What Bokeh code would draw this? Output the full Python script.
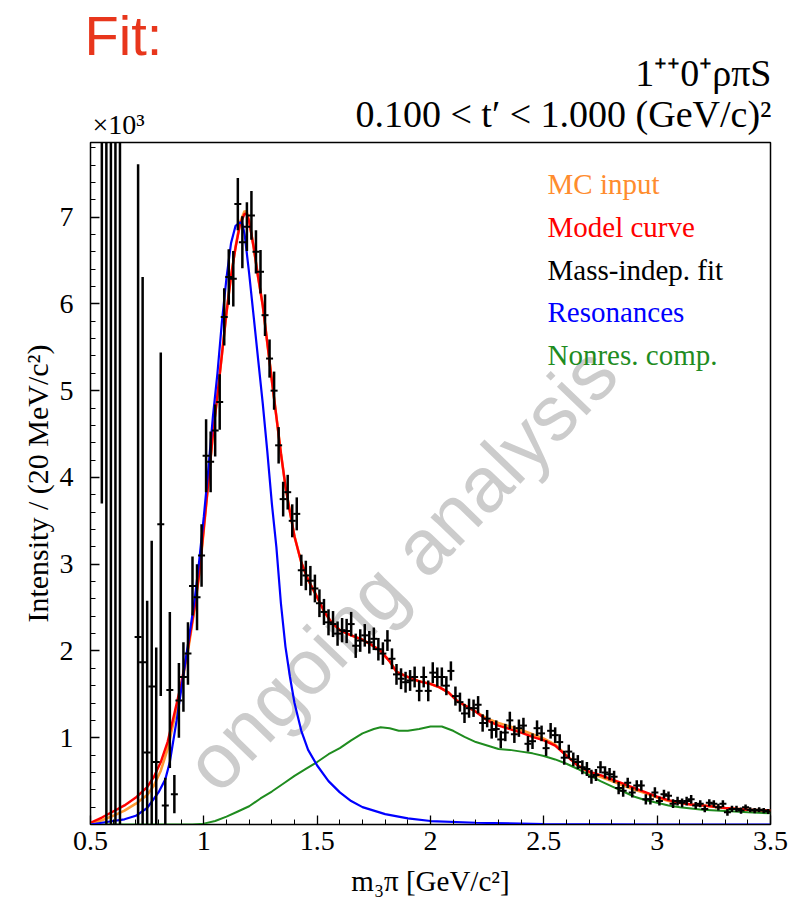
from bokeh.plotting import figure
from bokeh.layouts import column
from bokeh.models import Label, FixedTicker, Range1d, NumeralTickFormatter
from bokeh.embed import file_html
from bokeh.resources import INLINE

# ---------------- data (intensity in units of 10^3) ----------------
# mass-independent fit points: bin centres [GeV/c^2]
mass_low = [0.55, 0.57, 0.59, 0.61, 0.63, 0.71, 0.73, 0.75, 0.77, 0.79,
            0.81, 0.83, 0.85, 0.87, 0.89, 0.91, 0.93, 0.95, 0.97, 0.99]
val_low = [8.6, 9.0, 9.5, 9.2, 9.0, 2.16, 1.87, 0.83, 1.59, 0.72,
           3.46, 0.22, 1.55, 0.35, 1.43, 1.70, 1.97, 2.75, 2.62, 3.10]
err_low = [4.9, 9.5, 10.0, 9.5, 9.3, 5.45, 4.44, 1.75, 1.68, 1.32,
           1.98, 0.32, 0.90, 0.22, 0.43, 0.40, 0.36, 0.34, 0.38, 0.36]

mass_peak = [1.01, 1.03, 1.05, 1.07, 1.09, 1.11, 1.13, 1.15, 1.17, 1.19,
             1.21, 1.23, 1.25, 1.27, 1.29, 1.31, 1.33, 1.35, 1.37, 1.39,
             1.41, 1.43, 1.45, 1.47, 1.49, 1.51, 1.53]
val_peak = [4.25, 4.18, 4.54, 4.87, 5.85, 6.31, 6.29, 7.15, 6.71, 6.89,
            7.02, 6.60, 6.37, 5.87, 5.37, 5.00, 4.37, 3.75, 3.83, 3.50,
            3.58, 2.93, 2.87, 2.81, 2.72, 2.55, 2.45]
err_peak = [0.42, 0.35, 0.30, 0.32, 0.33, 0.32, 0.32, 0.30, 0.30, 0.28,
            0.28, 0.25, 0.25, 0.24, 0.22, 0.22, 0.21, 0.20, 0.20, 0.19,
            0.19, 0.18, 0.17, 0.17, 0.16, 0.16, 0.15]

mass_high = [1.55, 1.57, 1.59, 1.61, 1.63, 1.65, 1.67, 1.69, 1.71, 1.73,
             1.75, 1.77, 1.79, 1.81, 1.83, 1.85, 1.87, 1.89, 1.91, 1.93,
             1.95, 1.97, 1.99, 2.01, 2.03, 2.05, 2.07, 2.09, 2.11, 2.13,
             2.15, 2.17, 2.19, 2.21, 2.23, 2.25, 2.27, 2.29, 2.31, 2.33,
             2.35, 2.37, 2.39, 2.41, 2.43, 2.45, 2.47, 2.49, 2.51, 2.53,
             2.55, 2.57, 2.59, 2.61, 2.63, 2.65, 2.67, 2.69, 2.71, 2.73,
             2.75, 2.77, 2.79, 2.81, 2.83, 2.85, 2.87, 2.89, 2.91, 2.93,
             2.95, 2.97, 2.99, 3.01, 3.03, 3.05, 3.07, 3.09, 3.11, 3.13,
             3.15, 3.17, 3.19, 3.21, 3.23, 3.25, 3.27, 3.29, 3.31, 3.33,
             3.35, 3.37, 3.39, 3.41, 3.43, 3.45, 3.47, 3.49]
val_high = [2.33, 2.31, 2.20, 2.24, 2.23, 2.31, 2.06, 2.12, 2.18, 2.10,
            2.14, 2.02, 1.97, 2.12, 1.91, 1.73, 1.68, 1.64, 1.66, 1.70,
            1.54, 1.70, 1.54, 1.75, 1.70, 1.70, 1.60, 1.77, 1.48, 1.41,
            1.28, 1.34, 1.34, 1.38, 1.17, 1.22, 1.09, 1.10, 0.98, 1.06,
            1.20, 1.04, 1.11, 1.14, 0.93, 0.96, 1.11, 1.05, 0.88, 1.08,
            1.03, 0.95, 0.77, 0.84, 0.75, 0.72, 0.66, 0.64, 0.55, 0.57,
            0.66, 0.60, 0.58, 0.55, 0.42, 0.39, 0.48, 0.37, 0.45, 0.45,
            0.29, 0.29, 0.37, 0.27, 0.35, 0.33, 0.24, 0.27, 0.25, 0.27,
            0.29, 0.22, 0.24, 0.18, 0.25, 0.24, 0.20, 0.24, 0.14, 0.18,
            0.18, 0.16, 0.20, 0.17, 0.16, 0.17, 0.16, 0.15]
err_high = [0.15, 0.15, 0.14, 0.14, 0.14, 0.14, 0.14, 0.13, 0.13, 0.13,
            0.13, 0.13, 0.13, 0.12, 0.12, 0.12, 0.12, 0.12, 0.12, 0.12,
            0.12, 0.12, 0.12, 0.12, 0.11, 0.11, 0.11, 0.11, 0.11, 0.11,
            0.11, 0.11, 0.10, 0.10, 0.10, 0.10, 0.10, 0.10, 0.10, 0.10,
            0.10, 0.10, 0.10, 0.09, 0.09, 0.09, 0.09, 0.09, 0.09, 0.09,
            0.09, 0.09, 0.08, 0.08, 0.08, 0.08, 0.08, 0.08, 0.08, 0.07,
            0.07, 0.07, 0.07, 0.07, 0.07, 0.07, 0.06, 0.06, 0.06, 0.06,
            0.06, 0.06, 0.06, 0.05, 0.05, 0.05, 0.05, 0.05, 0.05, 0.05,
            0.05, 0.04, 0.04, 0.04, 0.04, 0.04, 0.04, 0.04, 0.04, 0.035,
            0.035, 0.035, 0.03, 0.03, 0.03, 0.03, 0.03, 0.03]

# model curves
curve_m = [0.50, 0.55, 0.60, 0.65, 0.70, 0.75, 0.78, 0.81, 0.84, 0.87,
           0.90, 0.93, 0.96, 0.98, 1.00, 1.02, 1.04, 1.06, 1.08, 1.10,
           1.12, 1.14, 1.16, 1.18, 1.19, 1.20, 1.22, 1.24, 1.26, 1.28,
           1.30, 1.32, 1.34, 1.36, 1.38, 1.40, 1.43, 1.46, 1.50, 1.53,
           1.56, 1.60, 1.65, 1.70, 1.74, 1.78, 1.82, 1.85, 1.90, 1.95,
           2.00, 2.04, 2.08, 2.12, 2.16, 2.20, 2.25, 2.30, 2.35, 2.40,
           2.45, 2.50, 2.55, 2.60, 2.65, 2.70, 2.75, 2.80, 2.85, 2.90,
           2.95, 3.00, 3.05, 3.10, 3.15, 3.20, 3.30, 3.40, 3.50]
model_curve = [0.02, 0.08, 0.15, 0.22, 0.31, 0.43, 0.55, 0.72, 0.95, 1.28,
               1.62, 2.03, 2.52, 2.90, 3.42, 3.95, 4.50, 4.95, 5.42, 5.90,
               6.32, 6.65, 6.92, 7.04, 7.03, 6.95, 6.65, 6.30, 5.98, 5.55,
               5.12, 4.70, 4.28, 3.90, 3.60, 3.32, 3.02, 2.82, 2.62, 2.46,
               2.34, 2.24, 2.18, 2.13, 2.07, 2.00, 1.88, 1.76, 1.70, 1.65,
               1.62, 1.58, 1.52, 1.42, 1.36, 1.30, 1.20, 1.14, 1.10, 1.06,
               1.01, 0.97, 0.91, 0.79, 0.68, 0.61, 0.57, 0.52, 0.47, 0.42,
               0.37, 0.32, 0.28, 0.25, 0.23, 0.22, 0.19, 0.17, 0.16]
mc_input = [0.01, 0.05, 0.10, 0.16, 0.24, 0.34, 0.45, 0.62, 0.87, 1.22,
            1.58, 2.00, 2.50, 2.88, 3.40, 3.95, 4.50, 4.95, 5.42, 5.90,
            6.32, 6.66, 6.94, 7.07, 7.05, 6.96, 6.65, 6.30, 5.98, 5.55,
            5.12, 4.70, 4.28, 3.90, 3.60, 3.32, 3.02, 2.82, 2.62, 2.46,
            2.34, 2.24, 2.18, 2.13, 2.07, 2.00, 1.88, 1.76, 1.70, 1.65,
            1.62, 1.58, 1.52, 1.42, 1.36, 1.30, 1.22, 1.17, 1.13, 1.09,
            1.04, 0.99, 0.92, 0.80, 0.68, 0.60, 0.55, 0.50, 0.45, 0.40,
            0.36, 0.31, 0.27, 0.25, 0.23, 0.22, 0.19, 0.17, 0.16]

res_m = [0.50, 0.55, 0.60, 0.65, 0.70, 0.75, 0.80, 0.83, 0.85, 0.88,
         0.90, 0.92, 0.94, 0.96, 0.98, 1.00, 1.02, 1.04, 1.06, 1.08,
         1.10, 1.12, 1.14, 1.16, 1.17, 1.18, 1.20, 1.22, 1.24, 1.26,
         1.28, 1.30, 1.32, 1.34, 1.36, 1.38, 1.40, 1.43, 1.46, 1.50,
         1.55, 1.60, 1.65, 1.70, 1.80, 1.90, 2.00, 2.20, 2.50, 3.00, 3.50]
resonances = [0.00, 0.02, 0.04, 0.06, 0.10, 0.19, 0.37, 0.52, 0.72, 1.20,
              1.55, 1.90, 2.25, 2.60, 3.05, 3.55, 4.10, 4.70, 5.20, 5.80,
              6.30, 6.70, 6.90, 6.94, 6.92, 6.80, 6.35, 5.85, 5.35, 4.85,
              4.30, 3.70, 3.20, 2.55, 2.05, 1.70, 1.40, 1.08, 0.86, 0.68,
              0.50, 0.37, 0.27, 0.20, 0.12, 0.07, 0.04, 0.02, 0.005, 0.0, 0.0]

nonres_m = [0.50, 0.80, 0.95, 1.00, 1.05, 1.10, 1.15, 1.20, 1.25, 1.30,
            1.35, 1.40, 1.45, 1.50, 1.55, 1.60, 1.65, 1.70, 1.75, 1.78,
            1.82, 1.86, 1.90, 1.95, 2.00, 2.05, 2.10, 2.15, 2.20, 2.25,
            2.30, 2.35, 2.40, 2.45, 2.50, 2.55, 2.60, 2.65, 2.70, 2.75,
            2.80, 2.85, 2.90, 2.95, 3.00, 3.05, 3.10, 3.20, 3.30, 3.40, 3.50]
nonres = [0.0, 0.0, 0.0, 0.01, 0.04, 0.09, 0.15, 0.21, 0.30, 0.38,
          0.47, 0.56, 0.64, 0.72, 0.81, 0.88, 0.97, 1.05, 1.10, 1.12,
          1.11, 1.08, 1.08, 1.10, 1.13, 1.13, 1.08, 1.01, 0.95, 0.91,
          0.87, 0.86, 0.84, 0.82, 0.79, 0.75, 0.70, 0.64, 0.57, 0.50,
          0.44, 0.38, 0.32, 0.28, 0.25, 0.22, 0.20, 0.17, 0.155, 0.14, 0.13]

x_ticks = [0.5, 1.0, 1.5, 2.0, 2.5, 3.0, 3.5]
y_ticks = [1, 2, 3, 4, 5, 6, 7]

mass = mass_low + mass_peak + mass_high
vals = val_low + val_peak + val_high
errs = err_low + err_peak + err_high
assert len(mass) == len(vals) == len(errs)
lo = [v - e for v, e in zip(vals, errs)]
hi = [v + e for v, e in zip(vals, errs)]

SERIF = "Liberation Serif"

# ---------------- header (titles) ----------------
HEAD_H = 140
head = figure(width=799, height=HEAD_H, x_range=Range1d(0, 799), y_range=Range1d(0, HEAD_H),
              title=None, output_backend="svg", toolbar_location=None,
              x_axis_location=None, y_axis_location=None,
              min_border=0, min_border_left=0, min_border_right=0,
              min_border_top=0, min_border_bottom=0, outline_line_color=None)
head.frame_align = False
head.xgrid.visible = False
head.ygrid.visible = False
head.background_fill_color = "white"
head.border_fill_color = "white"


def head_text(x, y_canvas, text, size, color="black", font=SERIF, align="left"):
    head.add_layout(Label(x=x, y=HEAD_H - y_canvas, text=text, text_font=font,
                          text_font_size=size, text_color=color, text_align=align,
                          text_baseline="middle"))


head_text(84, 35, "Fit:", "56px", color="#e8361c", font="Liberation Sans")
head_text(771, 72, "1⁺⁺0⁺ρπS", "38px", align="right")
head_text(771, 113, "0.100 < t′ < 1.000 (GeV/c)²", "38px", align="right")
head_text(92, 124, "×10³", "28px")

# ---------------- main figure ----------------
p = figure(width=799, height=903 - HEAD_H, x_range=Range1d(0.5, 3.5), y_range=Range1d(0, 7.86),
           title=None, output_backend="svg", toolbar_location=None,
           min_border_left=90, min_border_right=29, min_border_top=2, min_border_bottom=79)
p.frame_align = False
p.xgrid.visible = False
p.ygrid.visible = False
p.outline_line_color = "black"
p.outline_line_width = 1.5
p.background_fill_color = "white"
p.border_fill_color = "white"

# watermark
p.add_layout(Label(x=1.87, y=2.95, text="ongoing analysis", angle=46, angle_units="deg",
                   text_font="Liberation Sans", text_font_size="78px", text_color="#cccccc",
                   text_align="center", text_baseline="middle", level="underlay"))

p.line(curve_m, mc_input, line_color="#ff9933", line_width=2.6)
p.line(curve_m, model_curve, line_color="#ff0000", line_width=2.4)
p.line(nonres_m, nonres, line_color="#1f8c1f", line_width=2.0)
p.line(res_m, resonances, line_color="#0000ff", line_width=2.2)

p.segment(x0=mass, y0=lo, x1=mass, y1=hi, line_color="black", line_width=2.5)
p.scatter(mass, vals, marker="dash", size=7, line_color="black", line_width=2)

for ax in (p.xaxis[0], p.yaxis[0]):
    ax.axis_line_color = "black"
    ax.major_tick_in = 9
    ax.major_tick_out = 0
    ax.minor_tick_in = 5
    ax.minor_tick_out = 0
    ax.major_tick_line_color = "black"
    ax.minor_tick_line_color = "black"
    ax.major_tick_line_width = 1.3
    ax.minor_tick_line_width = 1.0
    ax.major_label_text_font = SERIF
    ax.major_label_text_font_size = "28px"
    ax.major_label_text_color = "black"
    ax.axis_label_text_font = SERIF
    ax.axis_label_text_font_style = "normal"
    ax.axis_label_text_color = "black"

p.xaxis.ticker = FixedTicker(ticks=x_ticks,
                             minor_ticks=[round(0.5 + 0.1 * i, 2) for i in range(31)])
p.xaxis.formatter = NumeralTickFormatter(format="0.[0]")
p.xaxis.major_label_standoff = 7
p.xaxis.axis_label = "m₃π [GeV/c²]"
p.xaxis.axis_label_text_font_size = "29px"
p.xaxis.axis_label_standoff = 12

p.yaxis.ticker = FixedTicker(ticks=y_ticks,
                             minor_ticks=[round(0.2 * i, 2) for i in range(1, 40)])
p.yaxis.formatter = NumeralTickFormatter(format="0")
p.yaxis.major_label_standoff = 17
p.yaxis.axis_label = "Intensity / (20 MeV/c²)"
p.yaxis.axis_label_text_font_size = "30px"
p.yaxis.axis_label_standoff = 3

# legend (text only), screen units relative to the frame's bottom-left (page y 824)
legend = [("MC input", "#ff8c2e", 183), ("Model curve", "#ff0000", 226),
          ("Mass-indep. fit", "black", 269), ("Resonances", "#0000ff", 311),
          ("Nonres. comp.", "#1f8c1f", 354)]
for txt, col, cy in legend:
    p.add_layout(Label(x=457, y=824 - cy, x_units="screen", y_units="screen", text=txt,
                       text_font=SERIF, text_font_size="29px", text_color=col,
                       text_align="left", text_baseline="middle"))

layout = column(head, p, spacing=0)
open("out.html", "w").write(file_html(layout, INLINE))
